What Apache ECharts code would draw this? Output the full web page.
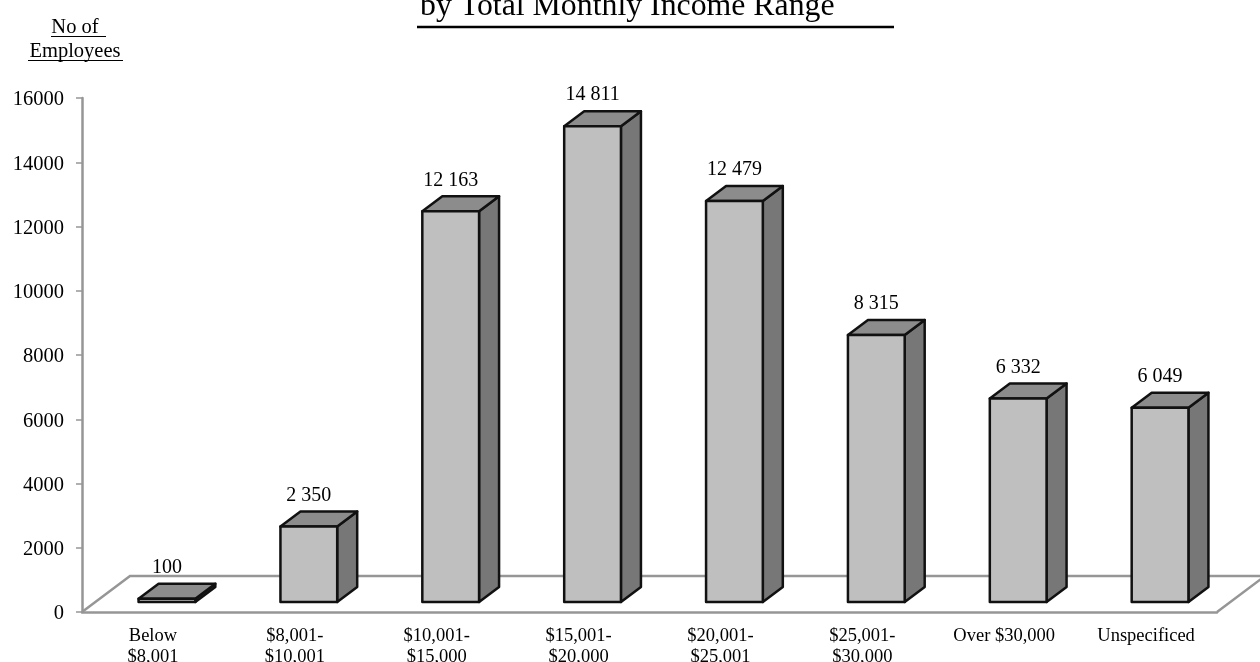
<!DOCTYPE html>
<html>
<head>
<meta charset="utf-8">
<title>Employees by Total Monthly Income Range</title>
<style>
    html, body { margin: 0; padding: 0; background: #fff; overflow: hidden; }
    #chartContainer { width: 1260px; height: 662px; }
</style>
<script src="https://cdn.jsdelivr.net/npm/echarts@6/dist/echarts.min.js"></script>
</head>
<body>
<div id="chartContainer"></div>
<script>
const categories = ['Below\n$8,001', '$8,001-\n$10,001', '$10,001-\n$15,000', '$15,001-\n$20,000',
    '$20,001-\n$25,001', '$25,001-\n$30,000', 'Over $30,000', 'Unspecificed'];
const employees = [100, 2350, 12163, 14811, 12479, 8315, 6332, 6049];
const yTicks = { min: 0, max: 16000, interval: 2000 };

const fontFamily = '"Liberation Serif", "Times New Roman", serif';
const axisGrey = '#969696';
const frontColor = '#bfbfbf';
const topColor = '#8c8c8c';
const sideColor = '#777777';

// fake 3D box, values go through the axes, only the depth is in pixels
const depthX = 20, depthY = 15;
const baseShiftX = 14, baseShiftY = 10;
const floorX = 48, floorY = 36;

function formatValue(v) {
    return String(v).replace(/\B(?=(\d{3})+$)/g, ' ');
}

function poly(points, fill) {
    return {
        type: 'polygon',
        shape: { points },
        style: { fill, stroke: '#111', lineWidth: 2.5, lineJoin: 'round' }
    };
}

function renderBar(params, api) {
    const idx = api.value(0);
    const val = api.value(1);
    const top = api.coord([idx, val]);
    const base = api.coord([idx, 0]);
    const halfW = api.size([1, 0])[0] * 0.2;
    const l = top[0] + baseShiftX - halfW;
    const r = top[0] + baseShiftX + halfW;
    const yTop = top[1] - baseShiftY;
    const yBase = base[1] - baseShiftY;
    return {
        type: 'group',
        children: [
            poly([[r, yBase], [r + depthX, yBase - depthY], [r + depthX, yTop - depthY], [r, yTop]], sideColor),
            poly([[l, yTop], [l + depthX, yTop - depthY], [r + depthX, yTop - depthY], [r, yTop]], topColor),
            poly([[l, yTop], [r, yTop], [r, yBase], [l, yBase]], frontColor),
            {
                type: 'text',
                style: {
                    x: (l + r) / 2,
                    y: yTop - depthY - 16,
                    text: formatValue(val),
                    fill: '#000',
                    font: '20px ' + fontFamily,
                    align: 'center',
                    verticalAlign: 'middle'
                }
            }
        ]
    };
}

function renderFloor(params, api) {
    const c = params.coordSys;
    const yAxis0 = c.y + c.height;
    const right = c.x + c.width;
    return {
        type: 'polyline',
        shape: {
            points: [[c.x, yAxis0], [c.x + floorX, yAxis0 - floorY],
                [right + floorX, yAxis0 - floorY], [right, yAxis0]]
        },
        style: { fill: null, stroke: axisGrey, lineWidth: 2.5 }
    };
}

function underline(x1, x2, y, width) {
    return { type: 'line', shape: { x1, y1: y, x2, y2: y }, style: { stroke: '#000', lineWidth: width } };
}

document.addEventListener('DOMContentLoaded', function() {
    const chart = echarts.init(document.getElementById('chartContainer'));

    chart.setOption({
        animation: false,
        backgroundColor: '#fff',
        title: [
            {
                text: 'by Total Monthly Income Range',
                left: 420,
                top: -9,
                padding: 0,
                textStyle: { fontFamily, fontSize: 31.8, fontWeight: 'normal', color: '#000' }
            },
            {
                text: 'No of\nEmployees',
                left: 75,
                top: 16,
                padding: 0,
                textAlign: 'center',
                textStyle: { fontFamily, fontSize: 20.5, fontWeight: 'normal', color: '#000', lineHeight: 24 }
            }
        ],
        graphic: [
            underline(417, 894, 27, 2.5),
            underline(51, 106, 36.5, 1),
            underline(28, 123, 60.5, 1)
        ],
        grid: { left: 82, right: 43, top: 98, bottom: 50, outerBoundsMode: 'none' },
        xAxis: {
            type: 'category',
            data: categories,
            axisLine: { lineStyle: { color: axisGrey, width: 2.5 } },
            axisTick: { length: 5, lineStyle: { color: axisGrey, width: 1.5 } },
            axisLabel: {
                interval: 0,
                margin: 14,
                lineHeight: 21,
                fontFamily,
                fontSize: 18.5,
                color: '#000'
            }
        },
        yAxis: {
            type: 'value',
            min: yTicks.min,
            max: yTicks.max,
            interval: yTicks.interval,
            splitLine: { show: false },
            axisLine: { show: true, lineStyle: { color: axisGrey, width: 2.5 } },
            axisTick: { show: true, length: 6, lineStyle: { color: axisGrey, width: 1.5 } },
            axisLabel: {
                margin: 18,
                verticalAlign: 'top',
                lineHeight: 4,
                fontFamily,
                fontSize: 20.5,
                color: '#000',
                formatter: v => String(v)
            }
        },
        series: [
            { type: 'custom', name: 'floor', clip: false, silent: true, z: 1, renderItem: renderFloor, data: [[0, 0]] },
            {
                type: 'custom',
                name: 'employees',
                clip: false,
                z: 2,
                renderItem: renderBar,
                encode: { x: 0, y: 1 },
                data: employees.map((v, i) => [i, v])
            }
        ]
    });

    window.addEventListener('resize', () => chart.resize());
});
</script>
</body>
</html>
